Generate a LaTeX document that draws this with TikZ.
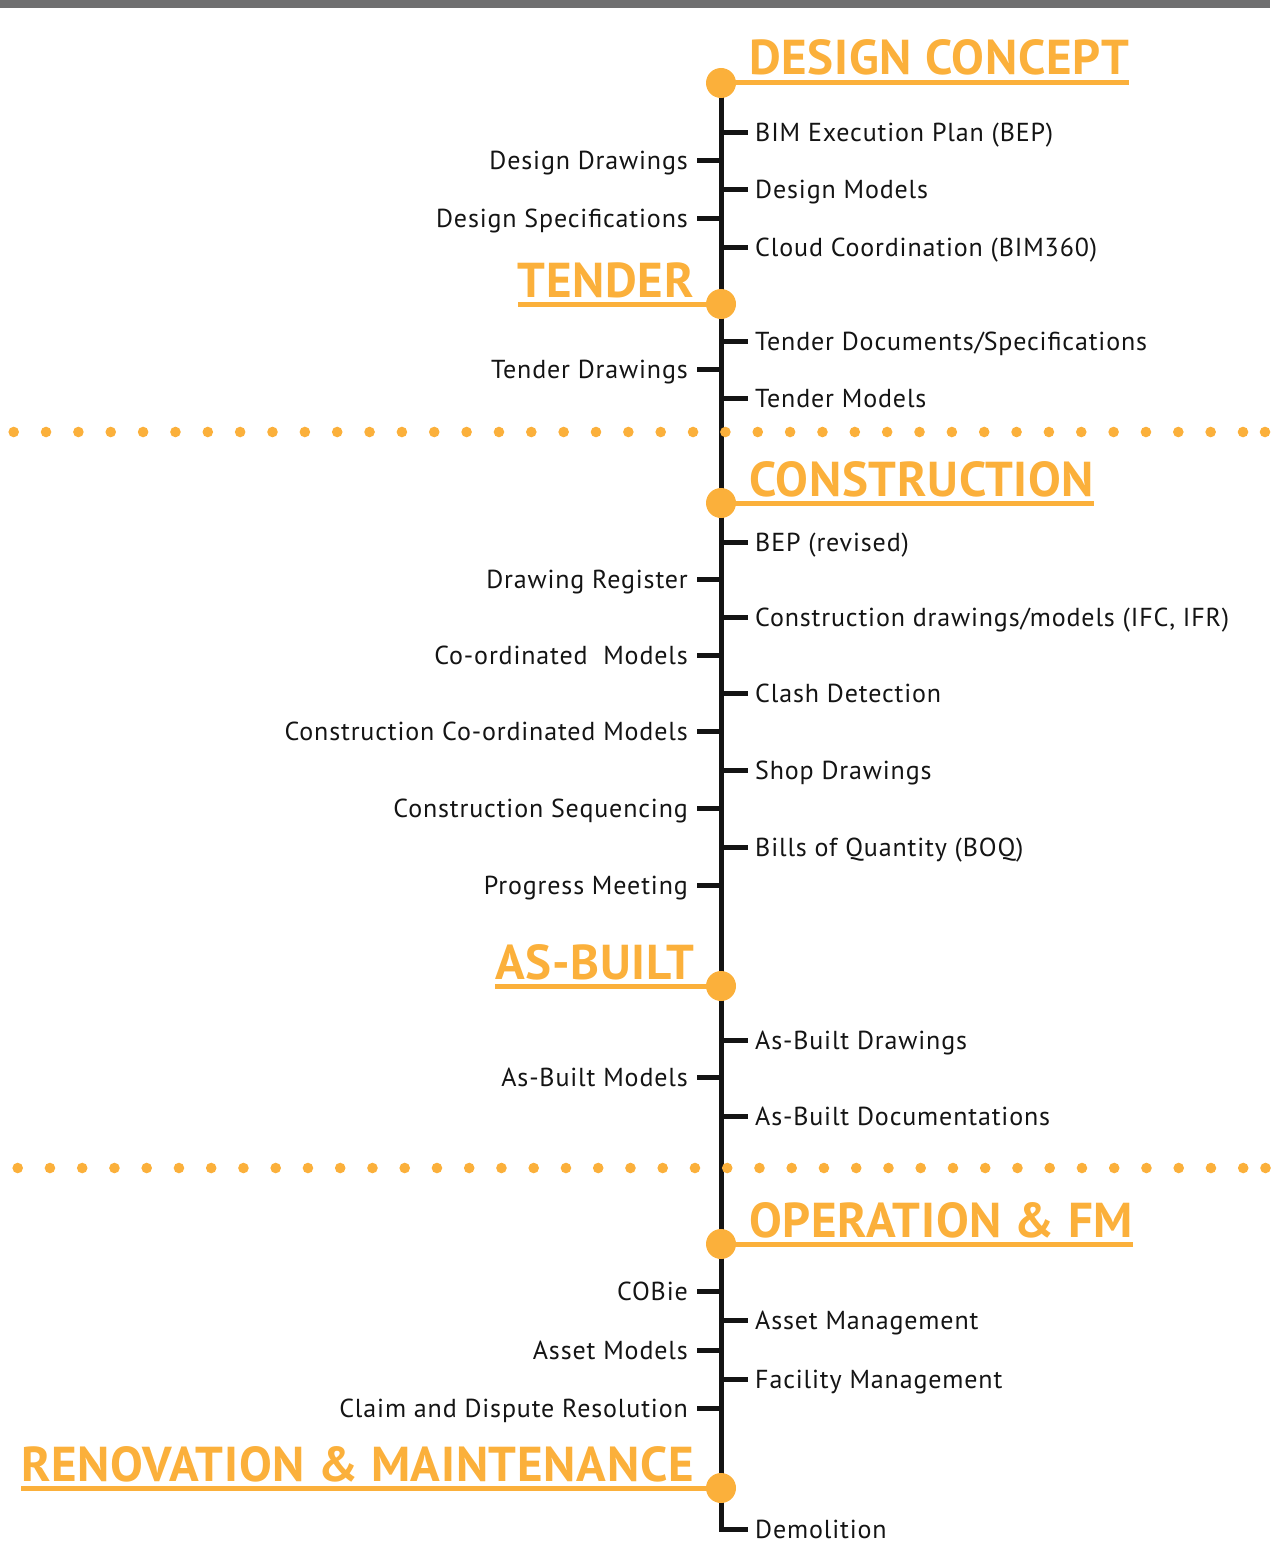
\documentclass[tikz,border=0pt]{standalone}
\usepackage{fontspec}
\setmainfont{PT Sans}[LetterSpace=3.3]
\newfontfamily\headfont{PT Sans}[BoldFont={* Bold}, LetterSpace=1.5]
\definecolor{acc}{HTML}{FBB03B}
\definecolor{topgray}{HTML}{6F6F70}
\definecolor{ink}{HTML}{141414}
\tikzset{
  spine/.style={line width=5pt, ink, line join=miter, line cap=butt},
  tick/.style={line width=5pt, ink},
  lbl/.style={font=\fontsize{26}{30}\selectfont, text=ink, inner sep=0pt},
  lblR/.style={lbl, anchor=base west},
  lblL/.style={lbl, anchor=base east},
  head/.style={font=\headfont\bfseries\fontsize{49}{55}\selectfont, text=acc, inner sep=0pt},
  headR/.style={head, anchor=base west},
  headL/.style={head, anchor=base east},
  uline/.style={line width=5pt, acc},
  ms/.style={circle, fill=acc, minimum size=30pt, inner sep=0pt},
  dotrow/.style={fill=acc}
}
\begin{document}
\begin{tikzpicture}[x=1pt,y=-1pt]
\useasboundingbox (0,0) rectangle (1270,1546);
\fill[topgray] (0,0) rectangle (1270,8);

% milestone positions
\coordinate (c1) at (721,83);
\coordinate (c2) at (721,304);
\coordinate (c3) at (721,503);
\coordinate (c4) at (721,986);
\coordinate (c5) at (721,1244);
\coordinate (c6) at (721,1488);
\coordinate (send) at (721,1529);
\coordinate (sendtick) at (748,1529);

% spine
\draw[spine] (c1) -- (send) -- (sendtick);

% right items
\foreach \y/\t/\n in {
  133/BIM Execution Plan (BEP)/r1,
  190/Design Models/r2,
  248/Cloud Coordination (BIM360)/r3,
  341/Tender Documents\slash Specifications/r4,
  398/Tender Models/r5,
  542/BEP (revised)/r6,
  617/{Construction drawings\slash models (IFC, IFR)}/r7,
  693/Clash Detection/r8,
  770/Shop Drawings/r9,
  847/Bills of Quantity (BOQ)/r10,
  1040/As-Built Drawings/r11,
  1116/As-Built Documentations/r12,
  1320/Asset Management/r13,
  1379/Facility Management/r14}
{
  \coordinate (s-\n) at (721,\y);
  \node[lblR] (\n) at (755,\y+9) {\t};
  \draw[tick] (s-\n) -- (748,\y);
}
\node[lblR] (r15) at (755,1529+9) {Demolition};

% left items
\foreach \y/\t/\n in {
  161/Design Drawings/l1,
  219/Design Specifications/l2,
  369/Tender Drawings/l3,
  579/Drawing Register/l4,
  655/Co-ordinated\ \ Models/l5,
  731/Construction Co-ordinated Models/l6,
  808/Construction Sequencing/l7,
  885/Progress Meeting/l8,
  1077/As-Built Models/l9,
  1291/COBie/l10,
  1350/Asset Models/l11,
  1408/Claim and Dispute Resolution/l12}
{
  \coordinate (s-\n) at (721,\y);
  \node[lblL] (\n) at (688,\y+9) {\t};
  \draw[tick] (s-\n) -- (697,\y);
}

% headings
\node[headR] (h1) at (749,75) {DESIGN CONCEPT};
\node[headL] (h2) at (694,297) {TENDER};
\node[headR] (h3) at (749,496) {CONSTRUCTION};
\node[headL] (h4) at (694,979) {AS-BUILT};
\node[headR] (h5) at (749,1237) {OPERATION \& FM};
\node[headL] (h6) at (694,1481) {RENOVATION \& MAINTENANCE};

\draw[uline] (c1) -- (h1.east |- c1);
\draw[uline] (c2) -- (h2.west |- c2);
\draw[uline] (c3) -- (h3.east |- c3);
\draw[uline] (c4) -- (h4.west |- c4);
\draw[uline] (c5) -- (h5.east |- c5);
\draw[uline] (c6) -- (h6.west |- c6);

% milestone circles
\node[ms] (m1) at (c1) {};
\node[ms] (m2) at (c2) {};
\node[ms] (m3) at (c3) {};
\node[ms] (m4) at (c4) {};
\node[ms] (m5) at (c5) {};
\node[ms] (m6) at (c6) {};

% dotted separators
\foreach \i in {0,...,38} {
  \fill[dotrow] (13.7+\i*32.35,432) circle (5.3);
  \fill[dotrow] (17.7+\i*32.25,1168) circle (5.3);
}
\fill[dotrow] (1265,432) circle (5.3);
\fill[dotrow] (1265.5,1168) circle (5.3);
\end{tikzpicture}
\end{document}
